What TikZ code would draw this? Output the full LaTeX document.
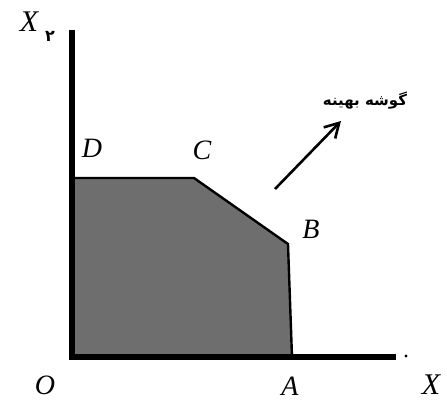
\documentclass[tikz,border=0pt]{standalone}
\usepackage{fontspec}
\setmainfont{Liberation Serif}
\newfontfamily\farsifont[Script=Arabic]{DejaVu Sans}
\TeXXeTstate=1
\usetikzlibrary{arrows.meta}
\definecolor{Ink}{HTML}{000000}
\definecolor{Shade}{HTML}{6E6E6E}

\begin{document}
\begin{tikzpicture}[
  x=0.5pt, y=-0.5pt,
  axis/.style={line width=2.6pt, draw=Ink},
  region/.style={fill=Shade, draw=Ink, line width=1.2pt, line join=miter},
  pointlbl/.style={font=\itshape\fontsize{14}{14}\selectfont, inner sep=0pt},
  arrow/.style={-{Straight Barb[length=7pt, width=8pt]}, line width=1.3pt, draw=Ink}
]
\useasboundingbox (0,0) rectangle (447,408);
% corners of the feasible region
\coordinate (o) at (72,357);
\coordinate (a) at (292,357);
\coordinate (b) at (288,244);
\coordinate (c) at (194,178);
\coordinate (d) at (72,178);
\coordinate (ytop) at (72,30);
\coordinate (xend) at (396,357);

\fill[region] (o) -- (a) -- (b) -- (c) -- (d) -- cycle;
\draw[axis] (ytop) -- (o) -- (xend);
\fill[Ink] (406,356) circle (1.6);

% labels
\node[pointlbl] (lo) at (45,385) {O};
\node[pointlbl] (la) at (290,386) {A};
\node[pointlbl] (lb) at (311,229) {B};
\node[pointlbl] (lc) at (202,150) {C};
\node[pointlbl] (ld) at (92,148) {D};
\node[pointlbl, font=\itshape\fontsize{15}{15}\selectfont] (lx) at (431,385) {X};
\node[pointlbl, font=\itshape\fontsize{15}{15}\selectfont] (ly) at (29,22) {X};
\node[inner sep=0pt, font=\farsifont\bfseries\fontsize{8}{8}\selectfont] (lysub) at (50,36) {۲};

% direction of improvement
\coordinate (tail) at (275,189);
\coordinate (tip) at (341,121);
\draw[arrow] (tail) -- (tip);
\node[inner sep=0pt, font=\farsifont\bfseries\fontsize{7.5}{7.5}\selectfont] (opt) at (365,101) {\beginR گوشه بهینه\endR};
\end{tikzpicture}
\end{document}
